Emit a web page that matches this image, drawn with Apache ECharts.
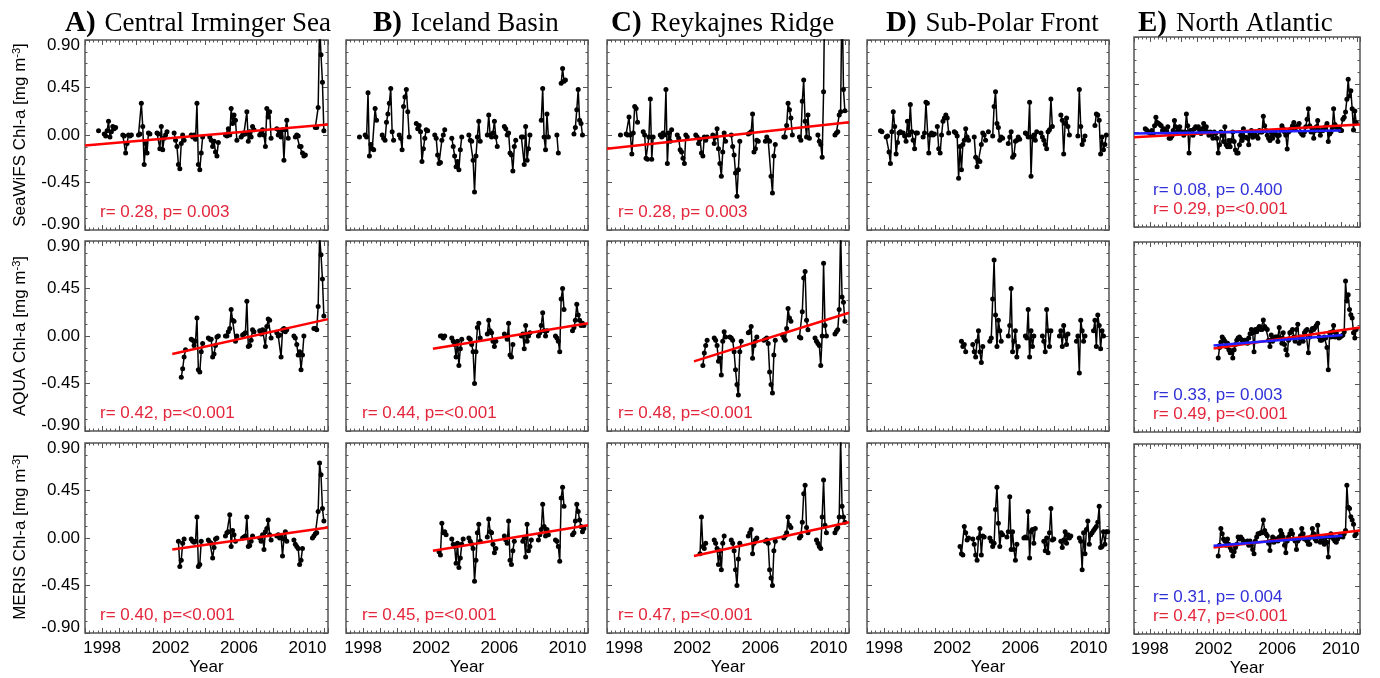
<!DOCTYPE html>
<html><head><meta charset="utf-8">
<script src="https://cdn.jsdelivr.net/npm/echarts@6/dist/echarts.min.js"></script>
<style>html,body{margin:0;padding:0;background:#fff}#c{width:1380px;height:678px}</style>
</head><body><div id="c"></div>
<script>
const n = null;
// ---------- tick labels / axis ----------
const xTickLabels = [1998, 2002, 2006, 2010];
const xMin = 1997, xMax = 2011.2;
const yMin = -0.9, yMax = 0.9, yStep = 0.45;
const rowTitles = ['SeaWiFS Chl-a [mg m{s|-3}]', 'AQUA Chl-a [mg m{s|-3}]', 'MERIS Chl-a [mg m{s|-3}]'];
const colLetters = ['A)', 'B)', 'C)', 'D)', 'E)'];
const colNames = ['Central Irminger Sea', 'Iceland Basin', 'Reykajnes Ridge', 'Sub-Polar Front', 'North Atlantic'];

// ---------- monthly anomalies (mg m-3), one row per year Jan..Dec ----------
const seaStart = 1997, aquaStart = 2002, merisStart = 2002;
const saA = [
 n,n,n,n,n,n,n,n,n,0.04,n,n,
 n,0.01,-0.01,0.04,0.13,-0.02,0.03,0.08,0.06,0.07,n,n,
 n,n,0.0,-0.01,-0.17,-0.08,0.0,-0.01,0.0,n,n,n,
 n,0.0,0.01,0.30,0.08,-0.28,-0.08,-0.17,0.02,0.01,n,n,
 n,n,0.02,0.01,-0.13,0.08,-0.14,-0.03,0.0,0.03,n,n,
 n,n,0.02,-0.05,-0.11,-0.28,-0.32,-0.08,0.0,-0.05,n,n,
 n,n,0.0,-0.02,0.0,-0.04,0.30,-0.28,-0.33,-0.17,-0.02,n,
 n,n,n,-0.02,-0.05,-0.11,-0.06,-0.16,-0.20,-0.07,n,n,
 n,n,0.0,-0.01,0.06,0.0,0.25,0.11,0.19,0.14,-0.05,n,
 n,-0.02,0.0,0.02,0.01,0.22,-0.06,0.03,-0.02,0.08,0.05,n,
 n,n,0.0,0.02,0.05,0.0,-0.11,0.25,0.17,0.22,-0.03,n,
 n,n,0.06,0.0,0.03,-0.02,0.05,-0.24,0.05,0.14,-0.03,n,
 n,n,n,-0.02,0.0,-0.01,-0.11,-0.11,-0.17,-0.20,-0.19,n,
 n,n,n,n,n,0.07,0.07,0.26,1.05,0.76,0.50,0.04];
const aqA = [
 n,n,n,n,n,n,n,-0.39,-0.31,-0.20,-0.13,n,
 n,n,-0.03,-0.04,-0.09,-0.05,0.17,-0.32,-0.34,-0.15,-0.07,n,
 n,n,-0.02,-0.03,-0.03,-0.20,-0.17,-0.09,-0.01,0.0,n,n,
 n,n,0.0,0.0,0.04,0.07,0.25,0.15,0.14,-0.05,0.0,n,
 n,n,0.01,0.02,0.03,0.33,-0.10,-0.09,-0.04,0.06,0.04,n,
 n,n,0.05,0.02,0.06,0.05,-0.10,0.09,0.16,0.15,-0.02,n,
 n,n,0.03,0.0,0.01,-0.20,0.06,0.07,0.04,0.06,n,n,
 n,n,0.0,-0.02,-0.08,-0.18,-0.15,-0.32,-0.18,0.0,n,n,
 n,n,n,n,0.07,0.07,0.06,0.28,0.95,0.77,0.54,0.19];
const meA = [
 n,n,n,n,n,-0.03,-0.27,-0.21,-0.05,-0.01,n,n,
 n,n,-0.01,-0.03,-0.04,-0.03,0.20,-0.27,-0.25,-0.03,n,n,
 n,n,-0.02,-0.04,-0.05,-0.19,-0.09,-0.01,0.0,n,n,n,
 n,n,0.02,0.05,0.06,0.22,-0.08,0.07,0.03,-0.03,n,n,
 n,n,0.0,0.01,0.02,0.20,-0.08,-0.07,-0.03,0.02,n,n,
 n,n,0.0,-0.03,0.03,-0.11,0.06,0.09,0.17,0.03,-0.02,n,
 n,n,0.02,0.03,0.0,0.02,-0.17,-0.01,0.06,-0.03,n,n,
 n,n,-0.02,-0.06,-0.08,-0.10,-0.25,-0.21,-0.10,n,n,n,
 n,n,n,0.0,0.02,0.04,0.05,0.25,0.71,0.60,0.28,0.16];
const saB = [
 n,n,n,n,n,n,n,n,n,-0.02,n,n,
 n,0.0,-0.02,0.40,-0.20,-0.09,-0.13,-0.14,0.25,0.14,n,n,
 n,0.0,-0.03,-0.05,0.12,0.20,0.30,0.44,0.03,-0.05,n,n,
 n,0.0,-0.03,-0.14,0.27,0.36,0.43,0.22,-0.02,n,n,n,
 n,0.11,0.06,0.09,0.03,-0.25,-0.13,-0.03,0.05,0.04,n,n,
 n,n,0.0,-0.03,-0.19,-0.27,-0.26,-0.05,0.0,0.05,n,n,
 n,n,-0.03,-0.11,-0.20,-0.30,-0.25,-0.33,-0.14,-0.02,n,n,
 n,n,0.0,-0.05,-0.06,-0.24,-0.54,-0.20,-0.02,0.13,-0.06,n,
 n,n,n,0.0,0.19,0.0,-0.02,0.02,0.13,-0.02,-0.11,n,
 n,n,n,0.08,0.06,0.0,0.02,-0.17,-0.19,-0.34,-0.11,-0.05,
 n,n,n,-0.02,-0.02,-0.28,0.08,-0.24,-0.13,0.0,n,n,
 n,n,n,n,n,0.14,0.44,-0.02,-0.14,0.20,-0.02,n,
 n,n,n,n,0.0,-0.17,n,0.49,0.63,0.51,0.52,n,
 n,n,n,n,0.01,0.07,0.24,0.43,0.14,0.11,0.0,n];
const aqB = [
 n,n,n,n,n,n,0.0,0.0,-0.02,0.0,n,n,
 n,n,-0.02,-0.05,-0.08,-0.20,-0.05,-0.28,-0.12,-0.03,n,n,
 n,n,-0.02,-0.03,-0.08,-0.15,-0.45,-0.15,0.08,0.12,-0.02,n,
 n,n,n,0.02,0.15,0.05,0.03,-0.05,-0.10,-0.05,n,n,
 n,n,n,0.02,0.0,-0.03,0.12,-0.18,-0.20,-0.08,n,n,
 n,n,n,0.0,0.02,-0.12,0.10,-0.05,0.0,0.03,n,n,
 n,n,n,0.0,0.03,0.10,0.22,0.05,0.0,0.05,n,n,
 n,n,n,0.0,-0.02,-0.05,-0.15,0.35,0.45,0.25,n,n,
 n,n,n,0.05,0.08,0.15,0.30,0.20,0.15,0.10,0.12,0.10];
const meB = [
 n,n,n,n,n,-0.13,-0.16,0.14,0.05,0.06,0.03,n,
 n,n,-0.01,-0.06,-0.08,-0.24,-0.05,-0.28,-0.19,-0.06,-0.01,n,
 n,n,0.0,-0.03,-0.06,-0.10,-0.41,-0.21,0.05,0.13,-0.03,n,
 n,n,n,0.01,0.18,0.06,0.05,-0.06,-0.14,-0.10,n,n,
 n,n,n,0.02,-0.02,-0.05,0.16,-0.21,-0.25,-0.12,-0.03,n,
 n,n,n,n,-0.03,0.0,-0.18,0.13,-0.12,-0.08,-0.02,n,
 n,n,n,-0.02,0.03,0.08,0.32,0.11,0.02,0.08,0.03,n,
 n,n,n,-0.02,-0.03,-0.08,-0.22,0.38,0.48,0.30,n,n,
 n,n,n,0.03,0.05,0.16,0.32,0.25,0.17,0.11,0.06,0.09];
const saC = [
 n,n,n,n,n,n,n,n,n,0.0,n,n,
 n,0.01,0.0,0.17,0.0,-0.18,0.02,0.27,0.25,0.12,n,n,
 n,0.03,0.0,-0.22,-0.23,-0.02,0.34,-0.23,-0.02,n,n,n,
 n,0.0,-0.02,0.02,0.0,0.43,-0.27,0.02,-0.06,0.05,n,n,
 n,0.0,-0.03,-0.14,-0.16,-0.22,-0.27,0.0,-0.02,n,n,n,
 n,n,0.0,-0.02,-0.08,-0.04,-0.17,-0.20,-0.02,-0.05,-0.02,n,
 n,n,0.0,-0.08,-0.02,0.06,-0.13,-0.27,-0.39,-0.16,0.02,-0.06,
 n,n,n,0.0,-0.11,-0.19,-0.36,-0.58,-0.33,-0.06,n,n,
 n,n,n,0.01,0.02,0.03,0.20,-0.16,-0.13,-0.05,-0.06,n,
 n,n,n,-0.06,-0.02,-0.05,-0.06,-0.39,-0.55,-0.20,-0.09,n,
 n,n,n,n,-0.02,-0.02,0.09,0.30,0.24,0.16,0.0,n,
 n,n,n,-0.02,-0.05,0.32,0.52,0.13,-0.02,0.19,-0.03,n,
 n,n,n,n,0.0,-0.06,-0.09,-0.21,0.41,1.60,n,n,
 n,n,n,n,0.0,0.02,0.03,0.19,0.22,1.40,0.43,0.23];
const aqC = [
 n,n,n,n,n,n,n,-0.28,-0.16,-0.09,-0.04,n,
 n,n,n,-0.02,-0.04,-0.09,-0.24,-0.21,-0.37,-0.05,0.04,-0.01,
 n,n,-0.01,-0.02,-0.04,-0.15,-0.32,-0.46,-0.56,-0.15,-0.05,n,
 n,n,n,0.03,0.04,0.09,-0.21,-0.09,-0.05,-0.01,n,n,
 n,n,-0.04,-0.03,-0.02,-0.07,-0.34,-0.46,-0.54,-0.18,-0.04,n,
 n,n,n,0.01,-0.02,-0.04,0.07,0.26,0.17,0.14,n,n,
 n,n,n,-0.01,-0.02,0.23,0.55,0.61,0.15,0.06,n,n,
 n,n,-0.02,-0.05,-0.07,-0.09,-0.28,0.0,0.69,0.10,0.0,n,
 n,n,n,n,0.02,0.04,0.06,0.25,1.00,0.37,0.32,0.14];
const meC = [
 n,n,n,n,n,-0.15,0.20,-0.08,-0.10,-0.05,n,n,
 n,n,n,-0.02,-0.05,-0.10,-0.25,-0.12,-0.30,-0.05,0.02,n,
 n,n,n,-0.02,-0.05,-0.12,-0.30,-0.45,-0.20,-0.05,n,n,
 n,n,n,0.02,0.05,0.08,-0.15,-0.05,-0.02,0.0,n,n,
 n,n,n,-0.03,-0.02,-0.05,-0.30,-0.38,-0.45,-0.12,-0.03,n,
 n,n,n,n,0.0,0.02,0.05,0.20,0.12,0.10,n,n,
 n,n,n,0.0,0.02,0.15,0.42,0.50,0.10,0.05,n,n,
 n,n,n,-0.02,-0.05,-0.08,-0.10,0.20,0.55,0.12,0.05,n,
 n,n,n,n,0.05,0.08,0.10,0.20,0.95,0.30,0.20,0.15];
const saD = [
 n,n,n,n,n,n,n,n,n,0.04,0.03,n,
 n,-0.02,-0.01,-0.16,-0.27,0.03,0.22,0.08,-0.18,-0.07,0.02,0.03,
 n,0.02,-0.01,-0.06,0.13,0.0,0.29,0.03,-0.05,-0.13,0.02,0.02,
 n,n,n,-0.02,0.02,0.31,0.30,-0.17,0.0,0.02,0.0,0.01,
 n,0.08,-0.13,-0.17,0.0,0.13,0.16,0.19,0.16,0.02,n,n,
 n,0.03,0.02,-0.01,-0.41,-0.11,-0.33,-0.09,-0.05,0.06,-0.02,-0.05,
 n,n,n,-0.02,-0.21,-0.30,-0.24,-0.25,-0.09,0.02,0.0,-0.05,
 n,0.03,n,n,-0.01,0.27,0.41,0.11,0.07,-0.05,-0.02,-0.03,
 n,n,n,-0.08,-0.02,0.03,-0.21,-0.19,-0.06,-0.05,-0.02,-0.04,
 n,n,n,0.02,0.01,-0.02,0.31,-0.39,-0.02,0.0,-0.05,0.03,
 n,n,0.02,-0.02,-0.05,-0.09,-0.13,0.03,0.05,0.34,0.08,n,
 n,n,n,n,0.19,0.14,-0.18,0.11,0.16,0.08,0.0,n,
 n,n,n,n,-0.01,0.43,0.08,-0.09,-0.05,-0.01,n,n,
 n,n,n,n,0.09,0.20,0.19,0.14,-0.18,-0.02,-0.14,-0.09,
 0.0];
const aqD = [
 n,n,n,n,n,n,-0.05,-0.10,-0.08,-0.15,n,n,
 n,n,-0.08,-0.15,-0.20,-0.05,0.05,-0.15,-0.25,-0.10,n,n,
 n,n,-0.05,-0.02,0.35,0.72,0.20,-0.10,0.15,0.05,-0.05,n,
 n,n,n,0.0,0.10,0.45,-0.15,-0.05,0.05,-0.20,-0.10,n,
 n,n,n,0.0,-0.02,0.25,-0.20,0.05,-0.10,0.0,n,n,
 n,n,n,0.0,-0.05,-0.15,0.25,0.05,-0.10,0.05,n,n,
 n,n,n,0.0,0.05,-0.10,0.10,0.0,-0.08,0.02,n,n,
 n,n,n,-0.05,0.0,-0.35,0.15,0.05,-0.05,0.0,n,n,
 n,n,n,0.05,0.15,-0.10,0.20,0.10,-0.12,0.05,0.0,n];
const meD = [
 n,n,n,n,n,-0.08,-0.15,-0.16,0.11,0.05,-0.02,0.0,
 n,n,-0.01,-0.06,-0.16,-0.21,0.0,0.09,-0.16,0.02,0.01,n,
 n,n,0.0,-0.03,-0.08,-0.05,0.27,0.48,0.14,-0.08,0.05,0.03,
 n,n,0.01,0.06,0.39,-0.11,0.06,-0.11,-0.21,-0.06,n,n,
 n,n,0.0,0.01,0.0,0.25,-0.19,0.06,0.08,-0.05,0.09,n,
 n,n,n,n,-0.03,-0.12,0.0,-0.14,0.05,0.28,-0.02,-0.01,
 n,n,n,n,-0.03,-0.09,-0.02,0.06,-0.05,0.03,0.0,0.02,
 n,n,n,n,n,0.0,-0.03,-0.30,0.05,-0.15,0.08,0.16,
 -0.06,0.03,0.05,0.07,0.09,0.11,0.15,0.30,-0.09,-0.08,0.06,-0.06,
 0.06,0.06];
const saE = [
 n,n,n,n,n,n,n,n,0.03,0.02,0.0,0.0,
 -0.015,0.015,-0.015,0.06,0.14,0.09,0.08,0.07,0.06,0.015,0.03,0.0,
 0.0,0.05,-0.06,-0.06,-0.04,0.015,0.11,0.05,0.0,0.02,0.05,0.0,
 0.0,-0.03,0.0,0.17,0.06,-0.20,0.015,0.015,-0.03,0.03,0.05,0.04,
 0.05,0.015,-0.015,0.03,0.08,0.015,0.05,0.0,-0.03,0.0,-0.015,-0.06,
 0.0,-0.015,-0.06,-0.20,-0.12,0.0,-0.03,-0.09,0.05,-0.12,-0.14,-0.08,
 -0.14,-0.08,0.0,-0.09,-0.17,-0.20,-0.20,-0.12,-0.03,-0.08,0.03,-0.05,
 -0.05,-0.06,-0.12,-0.02,0.015,-0.05,-0.03,0.0,-0.04,-0.06,0.015,0.0,
 0.0,0.15,0.06,0.015,-0.03,-0.06,-0.08,0.0,-0.06,-0.02,0.0,-0.03,
 -0.09,-0.03,0.02,0.06,0.03,0.0,-0.03,-0.16,0.0,0.015,0.03,0.06,
 0.09,0.03,0.05,0.06,0.08,0.0,-0.02,-0.03,0.0,0.05,0.12,0.22,
 0.06,0.0,0.03,-0.06,0.015,0.05,0.11,0.015,-0.03,0.015,0.015,0.03,
 0.05,0.08,-0.09,-0.02,0.0,0.03,0.22,0.07,0.05,0.03,0.03,0.015,
 0.015,0.12,0.14,0.19,0.31,0.50,0.34,0.39,0.22,0.02,0.20,0.09];
const aqE = [
 n,n,n,-0.20,-0.10,-0.05,0.0,-0.02,-0.04,-0.09,-0.06,-0.12,
 -0.15,-0.13,-0.20,-0.12,-0.07,-0.03,-0.01,0.0,-0.02,-0.03,-0.04,-0.03,
 -0.03,-0.06,-0.01,0.03,0.07,0.04,-0.14,0.07,0.05,0.08,0.10,0.07,
 0.07,0.16,0.10,0.08,0.07,-0.03,-0.09,0.02,-0.04,-0.02,0.0,0.0,
 0.0,0.09,-0.01,-0.06,0.04,-0.07,-0.12,-0.17,-0.03,0.04,0.05,0.07,
 0.0,-0.04,0.07,0.12,-0.06,0.0,-0.02,-0.04,0.04,0.06,0.07,-0.15,
 0.0,0.05,0.08,0.07,0.09,0.11,0.13,0.0,-0.03,-0.03,-0.02,0.0,
 -0.01,-0.10,-0.31,0.04,0.0,0.05,0.11,0.0,0.04,0.01,-0.01,0.0,
 0.01,0.02,0.05,0.53,0.34,0.40,0.26,0.21,0.18,0.04,-0.01,0.07];
const meE = [
 n,n,n,-0.16,-0.06,0.10,0.05,0.0,-0.02,-0.06,0.0,-0.05,
 -0.08,-0.11,-0.16,-0.12,-0.08,-0.05,0.02,0.0,0.02,0.0,-0.02,-0.03,
 -0.03,-0.02,-0.06,-0.02,-0.06,-0.10,-0.14,-0.02,0.02,0.05,0.05,0.06,
 0.06,0.18,0.08,0.05,0.03,-0.04,-0.11,-0.02,0.02,-0.03,0.0,0.0,
 -0.02,0.02,0.08,0.05,0.02,-0.06,-0.13,-0.02,0.02,0.05,0.08,0.05,
 0.0,-0.02,-0.10,-0.02,0.0,0.03,0.10,0.05,0.0,0.0,-0.02,-0.05,
 -0.05,0.02,0.10,0.05,0.0,-0.02,0.13,0.02,-0.03,0.0,-0.02,-0.05,
 0.02,-0.03,-0.17,0.02,0.05,0.02,0.0,-0.02,-0.03,0.0,0.02,0.03,
 0.03,0.02,0.05,0.08,0.51,0.30,0.29,0.21,0.18,0.14,0.03,0.05];

// ---------- regression lines [start, end] ----------
const trendA_sea = [[1997, -0.10], [2011.2, 0.10]];
const trendA_aqua = [[2002.1, -0.17], [2011.2, 0.16]];
const trendA_meris = [[2002.1, -0.11], [2011.2, 0.10]];
const trendB_aqua = [[2002.1, -0.12], [2011.2, 0.12]];
const trendB_meris = [[2002.1, -0.12], [2011.2, 0.12]];
const trendC_sea = [[1997, -0.13], [2011.2, 0.12]];
const trendC_aqua = [[2002.1, -0.24], [2011.2, 0.22]];
const trendC_meris = [[2002.1, -0.17], [2011.2, 0.15]];
const trendE_sea_blue = [[1997, -0.015], [2010, 0.015]];
const trendE_sea_red = [[1997, -0.05], [2011.2, 0.07]];
const trendE_aqua_blue = [[2002, -0.08], [2010.1, 0.02]];
const trendE_aqua_red = [[2002, -0.11], [2011.2, 0.09]];
const trendE_meris_blue = [[2002, -0.065], [2010.1, 0.03]];
const trendE_meris_red = [[2002, -0.08], [2011.2, 0.08]];

// ---------- statistics text ----------
const statsRed = {
  '0,0': 'r= 0.28, p= 0.003', '1,0': 'r= 0.42, p=<0.001', '2,0': 'r= 0.40, p=<0.001',
  '1,1': 'r= 0.44, p=<0.001', '2,1': 'r= 0.45, p=<0.001',
  '0,2': 'r= 0.28, p= 0.003', '1,2': 'r= 0.48, p=<0.001', '2,2': 'r= 0.47, p=<0.001',
  '0,4': 'r= 0.29, p=<0.001', '1,4': 'r= 0.49, p=<0.001', '2,4': 'r= 0.47, p=<0.001'
};
const statsBlue = { '0,4': 'r= 0.08, p= 0.400', '1,4': 'r= 0.33, p= 0.003', '2,4': 'r= 0.31, p= 0.004' };

// ---------- layout ----------
const RED = '#ff0000', BLUE = '#1f1fff', TXT_RED = '#e3263b', TXT_BLUE = '#3030d8';
const FRAME = '#555555';
const colLeft = [85, 346, 607, 867, 1134];
const colWidth = [243, 242, 242, 242, 226];
const rowTopStd = [40, 241, 443];
const rowTopE = [37, 242, 444];
const panelH = 190;
const titleX = [65, 373, 611, 886, 1138];
const noteDx = [15, 16, 11, 15, 19];

function monthly(start, arr) {
  return arr.map((v, i) => [start + (i + 0.5) / 12, v == null ? '-' : v]);
}

const dataGrid = [
  [[saA, seaStart], [saB, seaStart], [saC, seaStart], [saD, seaStart], [saE, seaStart]],
  [[aqA, aquaStart], [aqB, aquaStart], [aqC, aquaStart], [aqD, aquaStart], [aqE, aquaStart]],
  [[meA, merisStart], [meB, merisStart], [meC, merisStart], [meD, merisStart], [meE, merisStart]]
];
const trendGrid = {
  '0,0': [[trendA_sea, RED]], '1,0': [[trendA_aqua, RED]], '2,0': [[trendA_meris, RED]],
  '1,1': [[trendB_aqua, RED]], '2,1': [[trendB_meris, RED]],
  '0,2': [[trendC_sea, RED]], '1,2': [[trendC_aqua, RED]], '2,2': [[trendC_meris, RED]],
  '0,4': [[trendE_sea_red, RED], [trendE_sea_blue, BLUE]],
  '1,4': [[trendE_aqua_red, RED], [trendE_aqua_blue, BLUE]],
  '2,4': [[trendE_meris_red, RED], [trendE_meris_blue, BLUE]]
};

const FONT = '"Liberation Sans", Arial, Helvetica, sans-serif';
const SERIF = '"Liberation Serif", "Times New Roman", serif';

const grids = [], xAxes = [], yAxes = [], series = [], graphics = [];
let gi = 0;
for (let r = 0; r < 3; r++) {
  for (let c = 0; c < 5; c++) {
    const top = c === 4 ? rowTopE[r] : rowTopStd[r];
    const left = colLeft[c], w = colWidth[c];
    grids.push({ left: left, top: top, width: w, height: panelH, show: true,
      borderColor: FRAME, borderWidth: 1.5, backgroundColor: 'transparent', containLabel: false });
    const tickCommon = { show: true, inside: true, length: 5, lineStyle: { color: FRAME, width: 1 } };
    const minorCommon = { show: true, splitNumber: 4, length: 2.5, lineStyle: { color: FRAME, width: 1 } };
    const noLine = { show: false, onZero: false };
    xAxes.push({ type: 'value', gridIndex: gi, min: xMin, max: xMax, interval: 1, position: 'bottom',
      axisLine: noLine, splitLine: { show: false },
      axisTick: tickCommon, minorTick: minorCommon,
      axisLabel: { show: r === 2, margin: 7, fontSize: 17, color: '#000', fontFamily: FONT,
        formatter: v => xTickLabels.indexOf(v) >= 0 ? String(v) : '' },
      name: r === 2 ? 'Year' : '', nameLocation: 'middle', nameGap: 26,
      nameTextStyle: { fontSize: 17, color: '#000', fontFamily: FONT } });
    xAxes.push({ type: 'value', gridIndex: gi, min: xMin, max: xMax, interval: 1, position: 'top',
      axisLine: noLine, splitLine: { show: false }, axisTick: tickCommon, minorTick: minorCommon,
      axisLabel: { show: false } });
    yAxes.push({ type: 'value', gridIndex: gi, min: yMin, max: yMax, interval: yStep, position: 'left',
      axisLine: noLine, splitLine: { show: false }, axisTick: tickCommon, minorTick: minorCommon,
      axisLabel: { show: c === 0, margin: 5, fontSize: 17, color: '#000', fontFamily: FONT,
        formatter: v => {
          const s = (Math.abs(v) < 1e-9 ? 0 : v).toFixed(2);
          if (v > yMax - 1e-9) return '{t|' + s + '}';
          if (v < yMin + 1e-9) return '{b|' + s + '}';
          return s;
        },
        rich: { t: { fontSize: 17, fontFamily: FONT, color: '#000', padding: [10, 0, 0, 0] },
                b: { fontSize: 17, fontFamily: FONT, color: '#000', padding: [0, 0, 12, 0] } } } });
    yAxes.push({ type: 'value', gridIndex: gi, min: yMin, max: yMax, interval: yStep, position: 'right',
      axisLine: noLine, splitLine: { show: false }, axisTick: tickCommon, minorTick: minorCommon,
      axisLabel: { show: false } });

    const [arr, start] = dataGrid[r][c];
    series.push({ type: 'line', xAxisIndex: 2 * gi, yAxisIndex: 2 * gi, data: monthly(start, arr),
      symbol: 'circle', symbolSize: 5, showSymbol: true, connectNulls: false, clip: true,
      lineStyle: { color: '#000', width: 1.5 }, itemStyle: { color: '#000' }, z: 2, silent: true });
    const key = r + ',' + c;
    (trendGrid[key] || []).forEach(([tr, col]) => {
      series.push({ type: 'line', xAxisIndex: 2 * gi, yAxisIndex: 2 * gi, data: tr, symbol: 'none',
        clip: true, lineStyle: { color: col, width: 2.5 }, z: 3, silent: true });
    });
    const nx = left + noteDx[c];
    if (statsBlue[key]) {
      graphics.push({ type: 'text', x: nx, y: top + 153, z: 10, style: { text: statsBlue[key], fill: TXT_BLUE,
        font: '17px ' + FONT, align: 'left', verticalAlign: 'middle' } });
    }
    if (statsRed[key]) {
      graphics.push({ type: 'text', x: nx, y: top + 172, z: 10, style: { text: statsRed[key], fill: TXT_RED,
        font: '17px ' + FONT, align: 'left', verticalAlign: 'middle' } });
    }
    gi++;
  }
}

// column titles
for (let c = 0; c < 5; c++) {
  graphics.push({ type: 'text', x: titleX[c], y: 24, style: {
    text: '{b|' + colLetters[c] + '}{sp| }{t|' + colNames[c] + '}', align: 'left', verticalAlign: 'middle',
    rich: { b: { fontSize: 29, fontWeight: 'bold', fontFamily: SERIF, fill: '#000', color: '#000' },
            sp: { fontSize: 26, fontFamily: SERIF, width: 9 },
            t: { fontSize: 27, fontFamily: SERIF, fill: '#000', color: '#000' } } } });
}
// row (y-axis) titles
const rowCenters = [135, 336, 537];
for (let r = 0; r < 3; r++) {
  graphics.push({ type: 'text', x: 20, y: rowCenters[r], rotation: Math.PI / 2, style: {
    text: rowTitles[r], fill: '#000', font: '17px ' + FONT, align: 'center', verticalAlign: 'middle',
    rich: { s: { fontSize: 11, fontFamily: FONT, fill: '#000', color: '#000', verticalAlign: 'top', padding: [0, 0, 6, 0] } } } });
}

const chart = echarts.init(document.getElementById('c'), null, { renderer: 'canvas' });
chart.setOption({ animation: false, backgroundColor: '#fff', grid: grids, xAxis: xAxes, yAxis: yAxes,
  series: series, graphic: graphics });
</script></body></html>
